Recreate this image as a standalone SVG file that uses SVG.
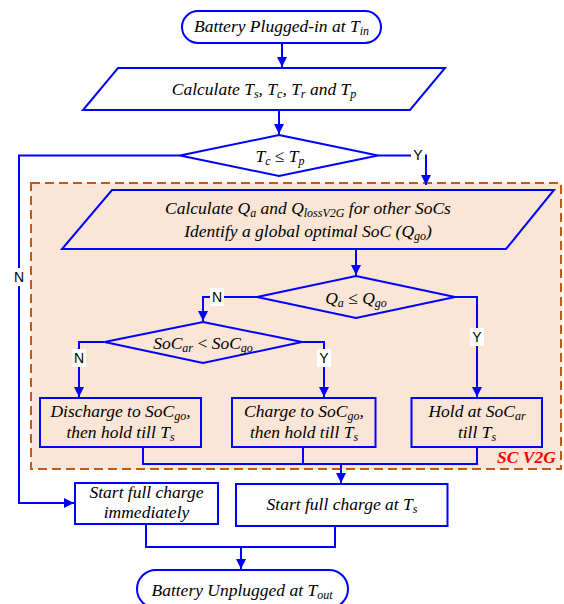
<svg xmlns="http://www.w3.org/2000/svg" width="564" height="604" viewBox="0 0 564 604">
<defs>
<marker id="ah" markerUnits="userSpaceOnUse" markerWidth="11" markerHeight="11" refX="10" refY="5" orient="auto">
<path d="M0,0 L10,5 L0,10 z" fill="#0000ff"/>
</marker>
<style>
.sh{fill:#ffffff;stroke:#0000ff;stroke-width:2}
.shp{fill:#fbe5d6;stroke:#0000ff;stroke-width:2}
.t{font-family:"Liberation Serif","Times New Roman",serif;font-style:italic;font-size:17.5px;fill:#000;text-anchor:middle}
.s{font-size:12px}
.up{font-style:normal}
.c{fill:none;stroke:#0000ff;stroke-width:2}
.a{marker-end:url(#ah)}
.lb{font-family:"Liberation Sans",Arial,sans-serif;font-size:14px;fill:#000;text-anchor:middle}
.lbg{fill:#ffffff}
</style>
</defs>
<rect id="region" x="31" y="183" width="530" height="286" fill="#fbe5d6" stroke="#c55a11" stroke-width="2" stroke-dasharray="9 5"/>
<text x="497" y="463" font-family="Liberation Serif,'Times New Roman',serif" font-style="italic" font-weight="bold" font-size="17.5" fill="#ff0000">SC V2G</text>
<g id="connectors">
<path class="c a" d="M282,43 V67"/>
<path class="c a" d="M279,110 V134"/>
<path class="c a" d="M180,155.5 H19 V503 H74"/>
<path class="c a" d="M378,155.5 H426 V185"/>
<path class="c a" d="M356,249 V275"/>
<path class="c a" d="M257,297 H203 V321"/>
<path class="c a" d="M455,297 H477 V397"/>
<path class="c a" d="M104.5,342 H79 V397"/>
<path class="c a" d="M302,342 H324 V397"/>
<path class="c" d="M143,447 V464 H477 V447 M303,447 V464"/>
<path class="c a" d="M341,464 V483"/>
<path class="c" d="M146,524 V547 H335 V526"/>
<path class="c a" d="M241,547 V569"/>
<rect class="lbg" x="12" y="268" width="14" height="18"/>
<text class="lb" x="19" y="282">N</text>
<rect class="lbg" x="411" y="146" width="14" height="18"/>
<text class="lb" x="418" y="160">Y</text>
<rect class="lbg" x="210" y="288" width="14" height="18"/>
<text class="lb" x="217" y="302">N</text>
<rect class="lbg" x="470" y="328" width="14" height="18"/>
<text class="lb" x="477" y="342">Y</text>
<rect class="lbg" x="72" y="349" width="14" height="18"/>
<text class="lb" x="79" y="363">N</text>
<rect class="lbg" x="317" y="349" width="14" height="18"/>
<text class="lb" x="324" y="363">Y</text>
</g>
<g id="start">
<rect class="sh" x="182" y="11" width="199" height="32" rx="16"/>
<text class="t" x="281.5" y="32">Battery Plugged-in at T<tspan class="s" dy="3">in</tspan></text>
</g>
<g id="calc1">
<polygon class="sh" points="118,68 445,68 410,110 83,110"/>
<text class="t" x="264" y="95">Calculate T<tspan class="s" dy="3">s</tspan><tspan dy="-3">, T</tspan><tspan class="s" dy="3">c</tspan><tspan dy="-3">, T</tspan><tspan class="s" dy="3">r</tspan><tspan dy="-3"> and T</tspan><tspan class="s" dy="3">p</tspan></text>
</g>
<g id="dec1">
<polygon class="sh" points="279,135 378,155.5 279,176 180,155.5"/>
<text class="t" x="280" y="162">T<tspan class="s" dy="3">c</tspan><tspan class="up" dy="-3"> ≤ </tspan>T<tspan class="s" dy="3">p</tspan></text>
</g>
<g id="calc2">
<polygon class="shp" points="112,190 554,190 506,249 62,249"/>
<text class="t" x="308" y="214">Calculate Q<tspan class="s" dy="3">a</tspan><tspan dy="-3"> and Q</tspan><tspan class="s" dy="3">lossV2G</tspan><tspan dy="-3"> for other SoCs</tspan></text>
<text class="t" x="308" y="237">Identify a global optimal SoC (Q<tspan class="s" dy="3">go</tspan><tspan dy="-3">)</tspan></text>
</g>
<g id="dec2">
<polygon class="shp" points="356,276 455,297 356,318 257,297"/>
<text class="t" x="356" y="304">Q<tspan class="s" dy="3">a</tspan><tspan class="up" dy="-3"> ≤ </tspan>Q<tspan class="s" dy="3">go</tspan></text>
</g>
<g id="dec3">
<polygon class="shp" points="203,322 302,342 203,363 104.5,342"/>
<text class="t" x="203" y="349">SoC<tspan class="s" dy="3">ar</tspan><tspan class="up" dy="-3"> &lt; </tspan>SoC<tspan class="s" dy="3">go</tspan></text>
</g>
<g id="discharge">
<rect class="shp" x="40" y="398" width="161" height="49"/>
<text class="t" x="120.5" y="417">Discharge to SoC<tspan class="s" dy="3">go</tspan><tspan dy="-3">,</tspan></text>
<text class="t" x="120.5" y="438">then hold till T<tspan class="s" dy="3">s</tspan></text>
</g>
<g id="charge">
<rect class="shp" x="232" y="398" width="143.5" height="49"/>
<text class="t" x="304" y="417">Charge to SoC<tspan class="s" dy="3">go</tspan><tspan dy="-3">,</tspan></text>
<text class="t" x="304" y="438">then hold till T<tspan class="s" dy="3">s</tspan></text>
</g>
<g id="hold">
<rect class="shp" x="411.5" y="398" width="130.5" height="49"/>
<text class="t" x="477" y="417">Hold at SoC<tspan class="s" dy="3">ar</tspan></text>
<text class="t" x="477" y="438">till T<tspan class="s" dy="3">s</tspan></text>
</g>
<g id="fullnow">
<rect class="sh" x="75" y="483" width="143" height="41"/>
<text class="t" x="146.5" y="498">Start full charge</text>
<text class="t" x="146.5" y="518">immediately</text>
</g>
<g id="fullts">
<rect class="sh" x="236" y="484" width="211.5" height="42"/>
<text class="t" x="342" y="510">Start full charge at T<tspan class="s" dy="3">s</tspan></text>
</g>
<g id="end">
<rect class="sh" x="137" y="570" width="211" height="38" rx="19"/>
<text class="t" x="242" y="596">Battery Unplugged at T<tspan class="s" dy="3">out</tspan></text>
</g>
</svg>
